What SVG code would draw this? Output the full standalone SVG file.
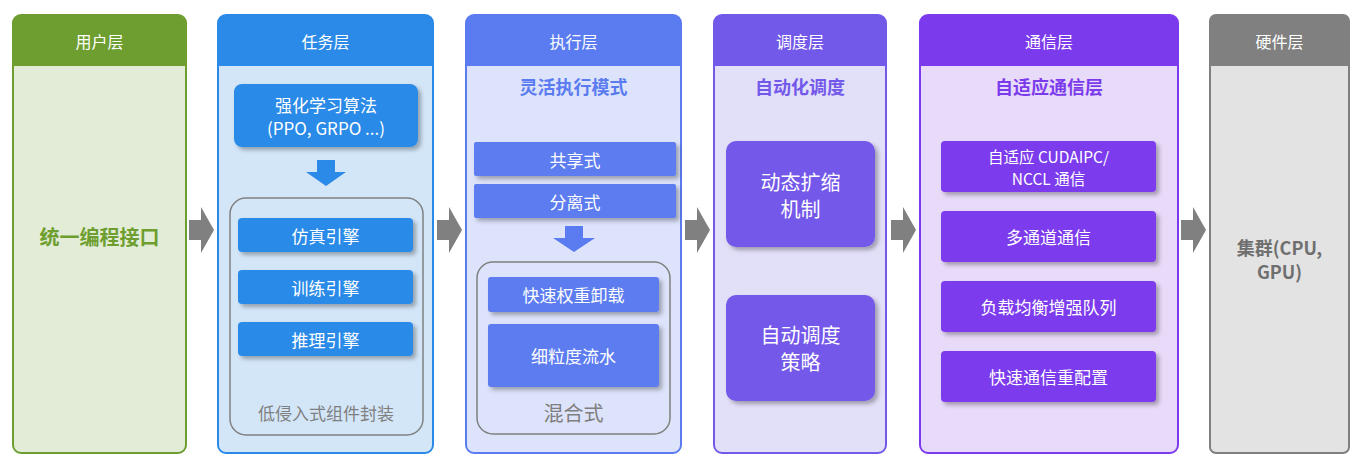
<svg xmlns="http://www.w3.org/2000/svg" width="1361" height="468" viewBox="0 0 1361 468">
<defs>
<filter id="sh" x="-10%" y="-10%" width="130%" height="140%"><feDropShadow dx="3" dy="3" stdDeviation="2" flood-color="#000" flood-opacity="0.3"/></filter>
<style>
text{font-family:"Noto Sans CJK SC","Noto Sans",sans-serif;text-anchor:middle;dominant-baseline:central}
.hd{fill:#fff;font-size:16px}
.bx{fill:#fff;font-size:17px}
.sm{fill:#fff;font-size:15.5px}
.big{fill:#fff;font-size:20px}
.tt{font-size:18px;font-weight:bold}
.inner{fill:none;stroke:#808080;stroke-width:1.5}
.ar{fill:#808080}
</style>
</defs>
<g id="user">
<rect x="13" y="15" width="173" height="438" rx="8" fill="#e2ecd6" stroke="#6e9e2f" stroke-width="2"/>
<path d="M13 66V23a8 8 0 0 1 8-8h157a8 8 0 0 1 8 8v43z" fill="#6e9e2f"/>
<text class="hd" x="99.5" y="41">用户层</text>
<text x="99.5" y="236" fill="#6e9e2f" style="font-size:20px;font-weight:bold">统一编程接口</text>
</g>
<g id="task">
<rect x="218" y="15" width="215" height="438" rx="8" fill="#d3e6f8" stroke="#2b8ae8" stroke-width="2"/>
<path d="M218 66V23a8 8 0 0 1 8-8h199a8 8 0 0 1 8 8v43z" fill="#2b8ae8"/>
<text class="hd" x="325.5" y="41">任务层</text>
<rect x="234" y="84" width="184" height="63" rx="8" fill="#2b8ae8" filter="url(#sh)"/>
<text class="bx" x="326" y="104">强化学习算法</text>
<text class="bx" x="326" y="127">(PPO, GRPO ...)</text>
<path d="M317 160h18v12h11l-20 14l-20-14h11z" fill="#2b8ae8"/>
<rect class="inner" x="230" y="198" width="193" height="237" rx="16"/>
<rect x="238" y="218" width="175" height="34" rx="4" fill="#2b8ae8" filter="url(#sh)"/>
<text class="bx" x="325.5" y="235">仿真引擎</text>
<rect x="238" y="270" width="175" height="34" rx="4" fill="#2b8ae8" filter="url(#sh)"/>
<text class="bx" x="325.5" y="287">训练引擎</text>
<rect x="238" y="322" width="175" height="34" rx="4" fill="#2b8ae8" filter="url(#sh)"/>
<text class="bx" x="325.5" y="339">推理引擎</text>
<text x="326" y="412" fill="#7f7f7f" style="font-size:17px">低侵入式组件封装</text>
</g>
<g id="exec">
<rect x="466" y="15" width="215" height="438" rx="8" fill="#dde3fb" stroke="#5b7cf0" stroke-width="2"/>
<path d="M466 66V23a8 8 0 0 1 8-8h199a8 8 0 0 1 8 8v43z" fill="#5b7cf0"/>
<text class="hd" x="573.5" y="41">执行层</text>
<text class="tt" x="573.5" y="86" fill="#5b7cf0">灵活执行模式</text>
<rect x="474" y="142" width="202" height="34" rx="2" fill="#5b7cf0" filter="url(#sh)"/>
<text class="bx" x="575" y="159">共享式</text>
<rect x="474" y="184" width="202" height="34" rx="2" fill="#5b7cf0" filter="url(#sh)"/>
<text class="bx" x="575" y="201">分离式</text>
<path d="M565 226h18v12h12l-21 14l-21-14h12z" fill="#5b7cf0"/>
<rect class="inner" x="477" y="262" width="193" height="172" rx="16"/>
<rect x="488" y="277" width="171" height="35" rx="3" fill="#5b7cf0" filter="url(#sh)"/>
<text class="bx" x="573.5" y="294.5">快速权重卸载</text>
<rect x="488" y="324" width="171" height="63" rx="3" fill="#5b7cf0" filter="url(#sh)"/>
<text class="bx" x="573.5" y="355">细粒度流水</text>
<text x="573.5" y="412" fill="#7f7f7f" style="font-size:20px">混合式</text>
</g>
<g id="sched">
<rect x="714" y="15" width="172" height="438" rx="8" fill="#e2dff8" stroke="#7359ea" stroke-width="2"/>
<path d="M714 66V23a8 8 0 0 1 8-8h156a8 8 0 0 1 8 8v43z" fill="#7359ea"/>
<text class="hd" x="800" y="41">调度层</text>
<text class="tt" x="800" y="86" fill="#7359ea">自动化调度</text>
<rect x="726" y="141" width="149" height="106" rx="10" fill="#7359ea" filter="url(#sh)"/>
<text class="big" x="800.5" y="181">动态扩缩</text>
<text class="big" x="800.5" y="208">机制</text>
<rect x="726" y="295" width="149" height="106" rx="10" fill="#7359ea" filter="url(#sh)"/>
<text class="big" x="800.5" y="334">自动调度</text>
<text class="big" x="800.5" y="361">策略</text>
</g>
<g id="comm">
<rect x="920" y="15" width="258" height="438" rx="8" fill="#e8daf9" stroke="#7c3aed" stroke-width="2"/>
<path d="M920 66V23a8 8 0 0 1 8-8h242a8 8 0 0 1 8 8v43z" fill="#7c3aed"/>
<text class="hd" x="1049" y="41">通信层</text>
<text class="tt" x="1049" y="86" fill="#7c3aed">自适应通信层</text>
<rect x="941" y="141" width="215" height="51" rx="4" fill="#7c3aed" filter="url(#sh)"/>
<text class="sm" x="1048.5" y="156">自适应 CUDAIPC/</text>
<text class="sm" x="1048.5" y="178">NCCL 通信</text>
<rect x="941" y="211" width="215" height="51" rx="4" fill="#7c3aed" filter="url(#sh)"/>
<text class="bx" x="1048.5" y="236.5">多通道通信</text>
<rect x="941" y="281" width="215" height="51" rx="4" fill="#7c3aed" filter="url(#sh)"/>
<text class="bx" x="1048.5" y="306.5">负载均衡增强队列</text>
<rect x="941" y="351" width="215" height="51" rx="4" fill="#7c3aed" filter="url(#sh)"/>
<text class="bx" x="1048.5" y="376.5">快速通信重配置</text>
</g>
<g id="hw">
<rect x="1210" y="15" width="139" height="438" rx="6" fill="#e3e3e3" stroke="#808080" stroke-width="2"/>
<path d="M1210 66V21a6 6 0 0 1 6-6h127a6 6 0 0 1 6 6v45z" fill="#808080"/>
<text class="hd" x="1279.5" y="41">硬件层</text>
<text x="1279.5" y="247" fill="#6f6f6f" style="font-size:18px;font-weight:bold">集群(CPU,</text>
<text x="1279.5" y="271" fill="#6f6f6f" style="font-size:18px;font-weight:bold">GPU)</text>
</g>
<g id="connectors">
<path class="ar" d="M189 220h12v-13l13 23l-13 23v-13h-12z"/>
<path class="ar" d="M437 220h12v-13l13 23l-13 23v-13h-12z"/>
<path class="ar" d="M685 220h12v-13l13 23l-13 23v-13h-12z"/>
<path class="ar" d="M891 220h12v-13l13 23l-13 23v-13h-12z"/>
<path class="ar" d="M1181 220h12v-13l13 23l-13 23v-13h-12z"/>
</g>
</svg>
